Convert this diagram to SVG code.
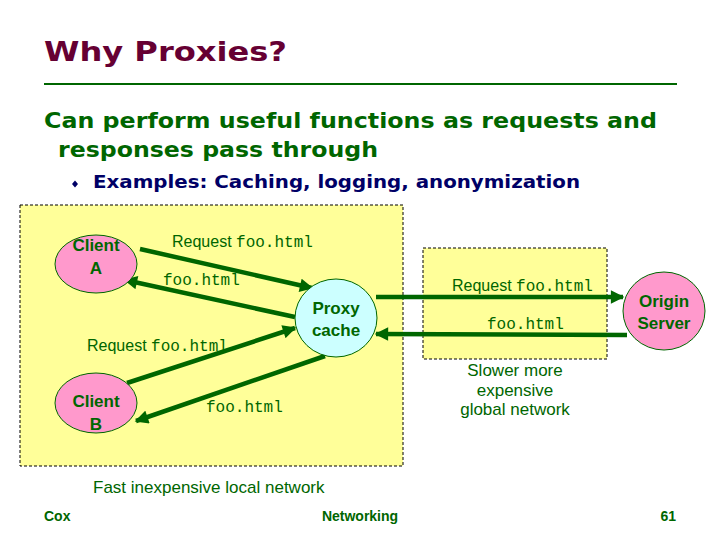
<svg xmlns="http://www.w3.org/2000/svg" width="720" height="540" viewBox="0 0 720 540">
<style>
.title{font-family:"DejaVu Sans",Verdana,sans-serif;font-weight:bold;font-size:27px;fill:#660033}
.sub{font-family:"DejaVu Sans",Verdana,sans-serif;font-weight:bold;font-size:22px;fill:#006600}
.bul{font-family:"DejaVu Sans",Verdana,sans-serif;font-weight:bold;font-size:17px;fill:#000066}
.lbl{font-family:"Liberation Sans",Arial,sans-serif;font-size:16px;fill:#006600}
.big{font-size:17px}
.mono{font-family:"Liberation Mono","Courier New",monospace;font-size:16px}
.node{font-family:"Liberation Sans",Arial,sans-serif;font-weight:bold;font-size:17px;fill:#006600;text-anchor:middle}
.foot{font-family:"Liberation Sans",Arial,sans-serif;font-weight:bold;font-size:14px;fill:#006600}
.box{fill:#ffff99;stroke:#000;stroke-width:1;stroke-dasharray:3,2}
.pink{fill:#ff99cc;stroke:#006600;stroke-width:1}
.cyan{fill:#ccffff;stroke:#006600;stroke-width:1}
.arr{stroke:#006600;stroke-width:4.5;fill:none;marker-end:url(#ah)}
</style>
<defs>
<marker id="ah" viewBox="0 0 10 10" refX="9" refY="5" markerWidth="3.2" markerHeight="3" orient="auto" markerUnits="strokeWidth">
<path d="M0,0 L10,5 L0,10 z" fill="#006600"/>
</marker>
</defs>
<rect width="720" height="540" fill="#ffffff"/>
<text class="title" x="44" y="61" textLength="243" lengthAdjust="spacingAndGlyphs">Why Proxies?</text>
<line x1="44" y1="84" x2="677" y2="84" stroke="#006600" stroke-width="2"/>
<text class="sub" x="44" y="128" textLength="613" lengthAdjust="spacingAndGlyphs">Can perform useful functions as requests and</text>
<text class="sub" x="58" y="157" textLength="320" lengthAdjust="spacingAndGlyphs">responses pass through</text>
<path d="M75,180.5 L78,184 L75,187.5 L72,184 z" fill="#000066"/>
<text class="bul" x="93" y="188" textLength="487" lengthAdjust="spacingAndGlyphs">Examples: Caching, logging, anonymization</text>

<rect class="box" x="20" y="205" width="383" height="261"/>
<rect class="box" x="423" y="248" width="184" height="111"/>

<g id="connectors">
<line class="arr" x1="140" y1="249" x2="312" y2="288"/>
<line class="arr" x1="295" y1="317" x2="125" y2="280"/>
<line class="arr" x1="127" y1="383" x2="295" y2="328"/>
<line class="arr" x1="325" y1="356" x2="136" y2="421"/>
<line class="arr" x1="376" y1="297" x2="623" y2="297"/>
<line class="arr" x1="627" y1="335" x2="376" y2="334"/>
</g>

<g id="clientA">
<ellipse class="pink" cx="96" cy="264" rx="41" ry="29"/>
<text class="node" x="96" y="251">Client</text>
<text class="node" x="96" y="274">A</text>
</g>
<g id="clientB">
<ellipse class="pink" cx="96" cy="403" rx="41" ry="30"/>
<text class="node" x="96" y="407">Client</text>
<text class="node" x="96" y="430">B</text>
</g>
<g id="proxy">
<ellipse class="cyan" cx="336" cy="318" rx="41" ry="39"/>
<text class="node" x="336" y="314">Proxy</text>
<text class="node" x="336" y="336">cache</text>
</g>
<g id="origin">
<ellipse class="pink" cx="664" cy="311" rx="41" ry="39"/>
<text class="node" x="664" y="307">Origin</text>
<text class="node" x="664" y="329">Server</text>
</g>

<g id="labels">
<text class="lbl" x="172" y="247">Request <tspan class="mono">foo.html</tspan></text>
<text class="lbl mono" x="163" y="285">foo.html</text>
<text class="lbl" x="87" y="351">Request <tspan class="mono">foo.html</tspan></text>
<text class="lbl mono" x="206" y="412">foo.html</text>
<text class="lbl" x="452" y="291">Request <tspan class="mono">foo.html</tspan></text>
<text class="lbl mono" x="487" y="329">foo.html</text>
<text class="lbl big" x="515" y="376" text-anchor="middle">Slower more</text>
<text class="lbl big" x="515" y="396" text-anchor="middle">expensive</text>
<text class="lbl big" x="515" y="415" text-anchor="middle">global network</text>
<text class="lbl big" x="93" y="493">Fast inexpensive local network</text>
</g>

<text class="foot" x="44" y="521">Cox</text>
<text class="foot" x="360" y="521" text-anchor="middle">Networking</text>
<text class="foot" x="676" y="521" text-anchor="end">61</text>
</svg>
